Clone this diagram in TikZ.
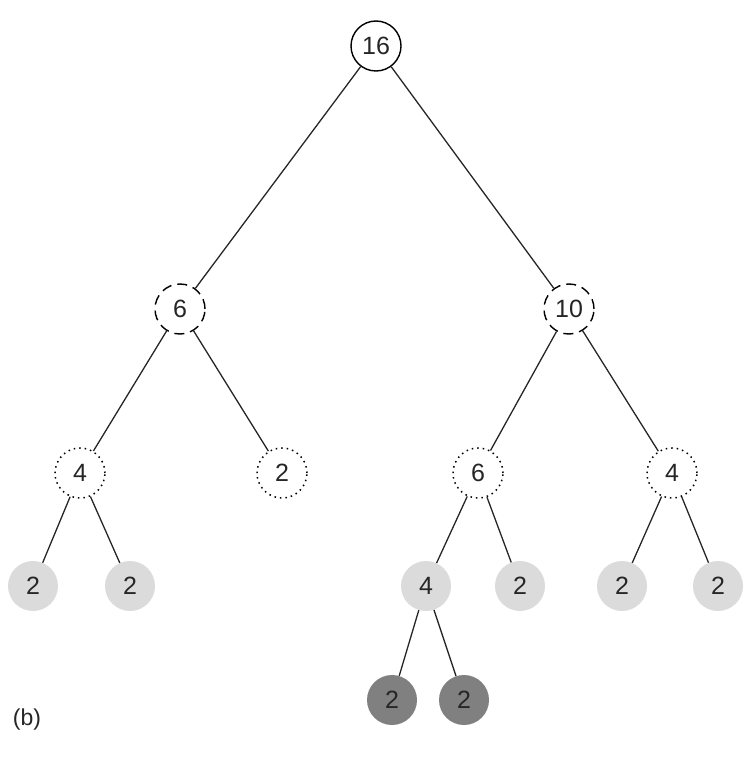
\documentclass[tikz,border=0pt]{standalone}
\usepackage{fontspec}
\setmainfont{Liberation Sans}
\begin{document}
\begin{tikzpicture}[x=1pt,y=-1pt,
  nd/.style={circle,minimum size=50pt,inner sep=0pt,font=\fontsize{25}{25}\selectfont,text=black!85},
  solidn/.style={nd,draw,line width=1.4pt},
  dashn/.style={nd,draw,line width=1.4pt,dash pattern=on 10pt off 6pt},
  dotn/.style={nd,draw,line width=1.5pt,dash pattern=on 1.5pt off 4pt},
  lightn/.style={nd,fill=black!14},
  darkn/.style={nd,fill=black!50},
  edge/.style={line width=1.3pt,black!85}]
\useasboundingbox (0,0) rectangle (755,762);
\node[solidn] (r) at (376,46) {16};
\node[dashn] (a) at (180,309) {6};
\node[dashn] (b) at (569,309) {10};
\node[dotn] (a1) at (80,473) {4};
\node[dotn] (a2) at (282,473) {2};
\node[dotn] (b1) at (478,473) {6};
\node[dotn] (b2) at (672,473) {4};
\node[lightn] (c1) at (33,586) {2};
\node[lightn] (c2) at (130,586) {2};
\node[lightn] (c3) at (426,586) {4};
\node[lightn] (c4) at (520,586) {2};
\node[lightn] (c5) at (622,586) {2};
\node[lightn] (c6) at (718,586) {2};
\node[darkn] (d1) at (392,700) {2};
\node[darkn] (d2) at (464,700) {2};
\node[font=\fontsize{23}{23}\selectfont,text=black!85] (lbl) at (27,720) {(b)};
\draw[edge] (r) -- (a);
\draw[edge] (r) -- (b);
\draw[edge] (a) -- (a1);
\draw[edge] (a) -- (a2);
\draw[edge] (b) -- (b1);
\draw[edge] (b) -- (b2);
\draw[edge] (a1) -- (c1);
\draw[edge] (a1) -- (c2);
\draw[edge] (b1) -- (c3);
\draw[edge] (b1) -- (c4);
\draw[edge] (b2) -- (c5);
\draw[edge] (b2) -- (c6);
\draw[edge] (c3) -- (d1);
\draw[edge] (c3) -- (d2);
\end{tikzpicture}
\end{document}
